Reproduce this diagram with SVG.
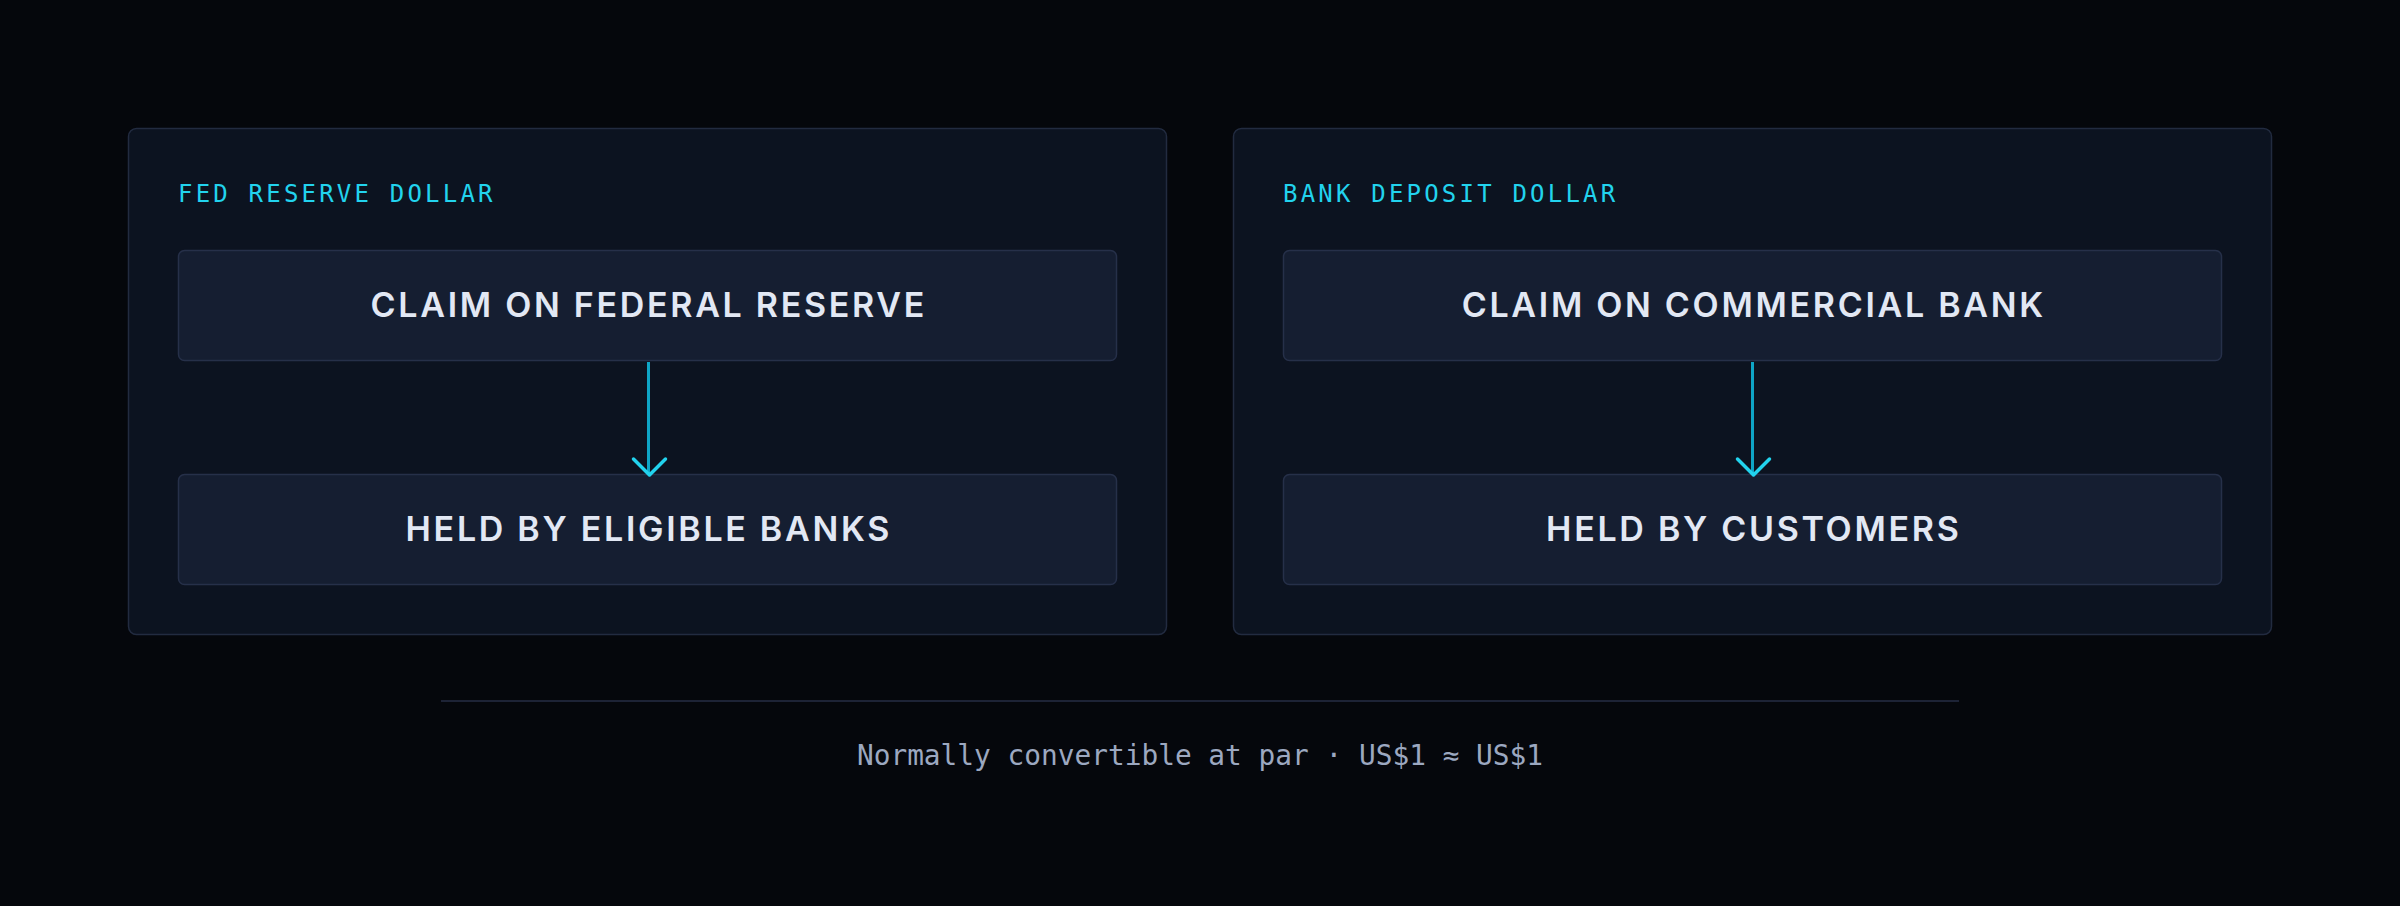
<svg xmlns="http://www.w3.org/2000/svg" width="2400" height="906" viewBox="0 0 2400 906">
  <defs>
    <style>
      .panel { fill: #0c1320; stroke: #222b40; stroke-width: 1.5; }
      .box { fill: #151e31; stroke: #263049; stroke-width: 1.5; }
      .label { font-family: "DejaVu Sans Mono", "Liberation Mono", monospace; font-size: 24px; fill: #22d3ee; letter-spacing: 3.2px; }
      .boxtext { font-family: Inter, "Liberation Sans", sans-serif; font-size: 34px; font-weight: 600; fill: #e2e8f4; letter-spacing: 2.7px; text-anchor: middle; }
      .footer { font-family: "DejaVu Sans Mono", "Liberation Mono", monospace; font-size: 27.8px; fill: #9ca8c0; text-anchor: middle; }
      .conn-line { stroke: #0ea5c6; stroke-width: 3; fill: none; }
      .conn-head { stroke: #22d3ee; stroke-width: 3.5; fill: none; stroke-linecap: round; stroke-linejoin: round; }
    </style>
  </defs>
  <rect x="0" y="0" width="2400" height="906" fill="#05070c"/>

  <g id="panel-fed">
    <rect class="panel" x="128.5" y="128.5" width="1038" height="506" rx="8"/>
    <text class="label" x="178" y="202">FED RESERVE DOLLAR</text>
  </g>
  <g id="node-fed-claim">
    <rect class="box" x="178.5" y="250.5" width="938" height="110" rx="6"/>
    <text class="boxtext" x="648.8" y="317">CLAIM ON FEDERAL RESERVE</text>
  </g>
  <g id="node-fed-held">
    <rect class="box" x="178.5" y="474.5" width="938" height="110" rx="6"/>
    <text class="boxtext" x="648.8" y="541">HELD BY ELIGIBLE BANKS</text>
  </g>

  <g id="panel-bank">
    <rect class="panel" x="1233.5" y="128.5" width="1038" height="506" rx="8"/>
    <text class="label" x="1283" y="202">BANK DEPOSIT DOLLAR</text>
  </g>
  <g id="node-bank-claim">
    <rect class="box" x="1283.5" y="250.5" width="938" height="110" rx="6"/>
    <text class="boxtext" x="1753.8" y="317">CLAIM ON COMMERCIAL BANK</text>
  </g>
  <g id="node-bank-held">
    <rect class="box" x="1283.5" y="474.5" width="938" height="110" rx="6"/>
    <text class="boxtext" x="1753.8" y="541">HELD BY CUSTOMERS</text>
  </g>

  <g id="connectors">
    <line class="conn-line" x1="648.5" y1="362" x2="648.5" y2="474"/>
    <polyline class="conn-head" points="633.5,459 649.5,475 665.5,459"/>
    <line class="conn-line" x1="1752.5" y1="362" x2="1752.5" y2="474"/>
    <polyline class="conn-head" points="1737.5,459 1753.5,475 1769.5,459"/>
  </g>

  <g id="footer">
    <line x1="441" y1="701" x2="1959" y2="701" stroke="#262e44" stroke-width="1.5"/>
    <text class="footer" x="1200" y="765">Normally convertible at par · US$1 ≈ US$1</text>
  </g>
</svg>
